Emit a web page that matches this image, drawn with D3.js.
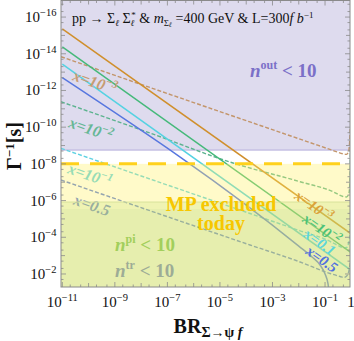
<!DOCTYPE html>
<html><head><meta charset="utf-8">
<script src="https://cdn.jsdelivr.net/npm/d3@7"></script>
<style>body{margin:0;background:#fff}svg{display:block}text{font-family:"Liberation Serif","Times New Roman",serif}</style>
</head><body><svg id="c" width="354" height="341"></svg>
<script>
// ---- data (log10 BR, log10 Γ^-1[s]) ----
const xTickExps = [-11, -9, -7, -5, -3, -1, 0];
const yTickExps = [-16, -14, -12, -10, -8, -6, -4, -2];
const solidX1e3 = [[-11, -15.36], [0, -4.18]];
const solidX1e2 = [[-11, -14.38], [0, -3.15]];
const solidX1e1 = [[-11, -13.44], [0, -2.19]];
const solidX05 = [[-11, -12.70], [-2, -3.52], [-1.495, -2.926], [-1.19, -2.49], [-1.0, -2.0], [-0.886, -1.455], [-0.848, -1.02]];
const dashX1e3 = [[-11.05, -13.84], [-5.758, -11.22], [-1.571, -9.16], [-0.696, -8.73], [-0.316, -8.55], [-0.182, -8.52], [-0.098, -8.70], [-0.060, -9.30], [-0.041, -9.95]];
const dashX1e2 = [[-11.05, -11.385], [-7.662, -9.68], [-4.502, -8.046], [-1.951, -7.027], [-0.696, -6.483], [-0.316, -6.221], [-0.182, -6.194], [-0.098, -6.357], [-0.060, -6.847], [-0.041, -7.937], [-0.036, -8.75]];
const dashX1e1 = [[-11.05, -8.846], [-7.662, -7.174], [-3.855, -5.295], [-1.951, -4.353], [-0.924, -3.852], [-0.429, -3.498], [-0.277, -3.416], [-0.176, -3.443], [-0.100, -3.688], [-0.062, -4.07], [-0.040, -4.67]];
const dashX05 = [[-11.05, -7.12], [-6.633, -4.941], [-3.855, -3.58], [-1.951, -2.654], [-0.81, -2.027], [-0.429, -1.864], [-0.277, -1.81], [-0.176, -1.891], [-0.100, -2.109], [-0.040, -2.654]];
const boundNout = -8.75;   // n_out < 10 above this
const boundMP = -8;        // MP excluded today below this
const boundNpi = -5.92;    // n_pi < 10 below this
const boundNtr = -5.54;    // n_tr < 10 below this

const svg = d3.select("#c");
const L = 61, R = 350, T = 0.5, B = 287;
const x = d3.scaleLog().domain([10 ** -11.05, 10 ** -0.05]).range([L, R]);
const y = d3.scaleLog().domain([10 ** -16.93, 10 ** -1.29]).range([0, B]);
const p = e => 10 ** e;

svg.append("defs").append("clipPath").attr("id", "clip")
  .append("rect").attr("x", L).attr("y", T).attr("width", R - L).attr("height", B - T);

const g = svg.append("g").attr("clip-path", "url(#clip)");

// purple region (under lines)
g.append("rect").attr("x", L).attr("y", T).attr("width", R - L)
  .attr("height", y(p(boundNout)) - T).attr("fill", "#dedbee");
g.append("line").attr("x1", L).attr("x2", R).attr("y1", y(p(boundNout))).attr("y2", y(p(boundNout)))
  .attr("stroke", "#c6c1e3").attr("stroke-width", 1.5);

const line = d3.line().x(d => x(p(d[0]))).y(d => y(p(d[1]))).curve(d3.curveMonotoneX);

const dashed = [
  [dashX1e3, "#c3956a"], [dashX1e2, "#5cb38f"], [dashX1e1, "#5fd2e2"], [dashX05, "#5b7bd8"]
];
dashed.forEach(([d, c]) => g.append("path").attr("d", line(d)).attr("fill", "none")
  .attr("stroke", c).attr("stroke-width", 1.4).attr("stroke-dasharray", "4,2"));
const solid = [
  [solidX1e3, "#d08f2c"], [solidX1e2, "#45b97a"], [solidX1e1, "#55d2e2"], [solidX05, "#5877df"]
];
solid.forEach(([d, c]) => g.append("path").attr("d", line(d)).attr("fill", "none")
  .attr("stroke", c).attr("stroke-width", 1.5));

// left labels (on dashed curves), under overlays
function xlab(parent, cx, cy, ang, base, sup, color, size) {
  const t = parent.append("text").attr("transform", `translate(${cx},${cy}) rotate(${ang})`)
    .attr("text-anchor", "middle").attr("font-size", size).attr("font-weight", "bold")
    .attr("font-style", "italic").attr("fill", color).attr("dy", "0.35em");
  t.append("tspan").text(base);
  if (sup) t.append("tspan").attr("font-size", size * 0.7).attr("dy", -size * 0.4).text(sup);
  return t;
}
xlab(g, 95, 82, 19, "x=10", "−3", "#c69c72", 16);
xlab(g, 91, 129, 19, "x=10", "−2", "#66b795", 16);
xlab(g, 90, 175, 19, "x=10", "−1", "#5fd2e2", 16);
xlab(g, 92, 205, 19, "x=0.5", null, "#5b7bd8", 16);

// yellow overlay
g.append("rect").attr("x", L).attr("y", y(p(boundMP))).attr("width", R - L)
  .attr("height", B - y(p(boundMP))).attr("fill", "rgb(255,240,100)").attr("fill-opacity", 0.35);
// n_pi overlay
g.append("rect").attr("x", L).attr("y", y(p(boundNpi))).attr("width", R - L)
  .attr("height", B - y(p(boundNpi))).attr("fill", "rgb(175,215,95)").attr("fill-opacity", 0.2);
g.append("line").attr("x1", L).attr("x2", R).attr("y1", y(p(boundNpi))).attr("y2", y(p(boundNpi)))
  .attr("stroke", "#d7e39a").attr("stroke-width", 1);
// n_tr overlay
g.append("rect").attr("x", L).attr("y", y(p(boundNtr))).attr("width", R - L)
  .attr("height", B - y(p(boundNtr))).attr("fill", "rgb(160,200,140)").attr("fill-opacity", 0.1);

// MP dashed line
g.append("line").attr("x1", L).attr("x2", R).attr("y1", y(p(boundMP))).attr("y2", y(p(boundMP)))
  .attr("stroke", "#ffd11c").attr("stroke-width", 3).attr("stroke-dasharray", "18,11");

// frame and ticks
const fc = "#8a8a8a";
svg.append("rect").attr("x", L).attr("y", T).attr("width", R - L).attr("height", B - T)
  .attr("fill", "none").attr("stroke", fc).attr("stroke-width", 1);
const tk = svg.append("g").attr("stroke", fc).attr("stroke-width", 0.8);
for (let e = -17; e <= -1; e++) {
  [1, 2, 5].forEach(m => {
    const v = m * 10 ** e;
    const yy = y(v);
    if (yy < 1 || yy > B - 1) return;
    const len = m === 1 ? (yTickExps.includes(e) ? 5 : 4) : 2.5;
    tk.append("line").attr("x1", L).attr("x2", L + len).attr("y1", yy).attr("y2", yy);
    tk.append("line").attr("x1", R).attr("x2", R - len).attr("y1", yy).attr("y2", yy);
  });
}
for (let e = -12; e <= 0; e++) {
  [1, 2, 5].forEach(m => {
    const v = m * 10 ** e;
    const xx = x(v);
    if (xx < L + 1 || xx > R - 1) return;
    const len = m === 1 ? (xTickExps.includes(e) ? 5 : 4) : 2.5;
    tk.append("line").attr("x1", xx).attr("x2", xx).attr("y1", B).attr("y2", B - len);
    tk.append("line").attr("x1", xx).attr("x2", xx).attr("y1", T).attr("y2", T + len);
  });
}

// tick labels
yTickExps.forEach(e => {
  const t = svg.append("text").attr("x", 56.5).attr("y", y(p(e)) + 5)
    .attr("text-anchor", "end").attr("font-size", 15).attr("fill", "#111");
  t.append("tspan").text("10");
  t.append("tspan").attr("font-size", 10.5).attr("dy", -6).text("−" + (-e));
});
xTickExps.forEach(e => {
  const t = svg.append("text").attr("x", Math.min(x(p(e)), R + 1)).attr("y", 307)
    .attr("text-anchor", "middle").attr("font-size", 15).attr("fill", "#111");
  if (e === 0) { t.text("1"); return; }
  t.append("tspan").text("10");
  t.append("tspan").attr("font-size", 10.5).attr("dy", -6).text("−" + (-e));
});

// axis titles
const yl = svg.append("text").attr("transform", "translate(21,146) rotate(-90)")
  .attr("text-anchor", "middle").attr("font-size", 20).attr("font-weight", "bold").attr("fill", "#111");
yl.append("tspan").text("Γ");
yl.append("tspan").attr("font-size", 13).attr("dy", -7).text("−1");
yl.append("tspan").attr("dy", 7).text("[s]");
const xl = svg.append("text").attr("x", 208).attr("y", 333).attr("text-anchor", "middle")
  .attr("font-size", 20).attr("font-weight", "bold").attr("fill", "#111");
xl.append("tspan").text("BR");
xl.append("tspan").attr("font-size", 14).attr("dy", 4).text("Σ→ψ ");
xl.append("tspan").attr("font-size", 14).attr("font-style", "italic").text("f");

// title
const tt = svg.append("text").attr("x", 72).attr("y", 23).attr("font-size", 14).attr("fill", "#111");
tt.append("tspan").text("pp → Σ");
tt.append("tspan").attr("font-size", 9).attr("font-style", "italic").attr("dy", 3).text("ℓ");
tt.append("tspan").attr("dy", -3).text(" Σ");
tt.append("tspan").attr("font-size", 9).attr("font-style", "italic").attr("dy", 3).text("ℓ");
tt.append("tspan").attr("font-size", 9).attr("dx", -3).attr("dy", -8).text("*");
tt.append("tspan").attr("dy", 5).text(" & ");
tt.append("tspan").attr("font-style", "italic").text("m");
tt.append("tspan").attr("font-size", 9).attr("dy", 3).text("Σ");
tt.append("tspan").attr("font-size", 7).attr("font-style", "italic").attr("dy", 1).text("ℓ");
tt.append("tspan").attr("dy", -4).text(" =400 GeV & L=300");
tt.append("tspan").attr("font-style", "italic").text("f b");
tt.append("tspan").attr("font-size", 9).attr("dy", -5).text("−1");

// region labels
function nlab(xx, yy, sup, color) {
  const t = svg.append("text").attr("x", xx).attr("y", yy).attr("font-size", 19)
    .attr("font-weight", "bold").attr("fill", color);
  t.append("tspan").attr("font-style", "italic").text("n");
  t.append("tspan").attr("font-size", 12).attr("dy", -8).text(sup);
  t.append("tspan").attr("dy", 8).text(" < 10");
}
nlab(250, 77, "out", "#7b70c8");
nlab(115, 251, "pi", "#a2cf5c");
nlab(115, 277, "tr", "#9dac96");

const mp = svg.append("text").attr("text-anchor", "middle").attr("font-size", 20)
  .attr("font-weight", "bold").attr("fill", "#f7c700");
mp.append("tspan").attr("x", 221).attr("y", 211).text("MP excluded");
mp.append("tspan").attr("x", 221).attr("y", 230).text("today");

// right labels (on solid lines)
const gr = svg.append("g").attr("clip-path", "url(#clip)");
xlab(gr, 314, 206, 35, "x=10", "−3", "#dba23a", 15);
xlab(gr, 322, 229, 35, "x=10", "−2", "#4cc278", 15);
xlab(gr, 320, 242, 35, "x=0.1", null, "#5bd6dc", 15);
xlab(gr, 322, 259, 35, "x=0.5", null, "#4f6fe0", 15);
</script></body></html>
